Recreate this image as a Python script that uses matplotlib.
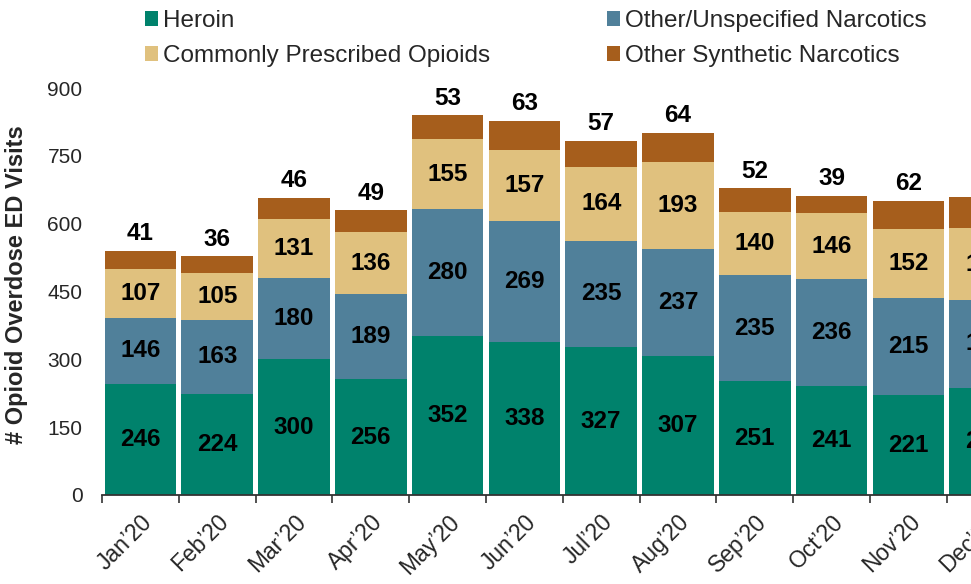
import numpy as np
import matplotlib.pyplot as plt

plt.rcParams['font.family'] = ['Liberation Sans', 'DejaVu Sans']

months = ['Jan’20', 'Feb’20', 'Mar’20', 'Apr’20', 'May’20', 'Jun’20',
          'Jul’20', 'Aug’20', 'Sep’20', 'Oct’20', 'Nov’20', 'Dec’20']
heroin = [246, 224, 300, 256, 352, 338, 327, 307, 251, 241, 221, 237]
other_unspec = [146, 163, 180, 189, 280, 269, 235, 237, 235, 236, 215, 194]
common_rx = [107, 105, 131, 136, 155, 157, 164, 193, 140, 146, 152, 159]
other_synth = [41, 36, 46, 49, 53, 63, 57, 64, 52, 39, 62, 70]

series = [
    ('Heroin', heroin, '#00826C'),
    ('Other/Unspecified Narcotics', other_unspec, '#50809A'),
    ('Commonly Prescribed Opioids', common_rx, '#E0C17E'),
    ('Other Synthetic Narcotics', other_synth, '#A65E1C'),
]

fig = plt.figure(figsize=(9.71, 5.84), dpi=100)
# axes run past the right edge of the figure
ax = fig.add_axes([102 / 971, 89 / 584, 921.6 / 971, 407 / 584])

x = np.arange(len(months))
bottom = np.zeros(len(months))
conts = {}
for name, vals, col in series:
    vals = np.array(vals)
    c = ax.bar(x, vals, 0.93, bottom=bottom, color=col, label=name)
    conts[name] = c
    bottom += vals

for name, vals, _ in series[:3]:
    ax.bar_label(conts[name], labels=[str(v) for v in vals], label_type='center',
                 fontsize=17.5, fontweight='bold', color='black')
# synthetic counts sit on top of each column
ax.bar_label(conts['Other Synthetic Narcotics'],
             labels=[str(v) for v in other_synth], label_type='edge',
             padding=4, fontsize=17.5, fontweight='bold', color='black')

ax.set_xlim(-0.5, 11.5)
ax.set_ylim(0, 900)
ax.set_yticks(np.arange(0, 901, 150))
ax.tick_params(axis='y', length=0, pad=14, labelsize=15, labelcolor='#262626')

ax.set_xticks(x)
ax.set_xticklabels(months, rotation=45, ha='right', rotation_mode='anchor')
ax.set_xticks(np.arange(-0.5, 12, 1), minor=True)
ax.tick_params(axis='x', which='major', length=0, pad=11, labelsize=16.5,
               labelcolor='#262626')
ax.tick_params(axis='x', which='minor', length=6, width=1.2, color='#333333')

for s in ['top', 'right', 'left']:
    ax.spines[s].set_visible(False)
ax.spines['bottom'].set_color('#333333')
ax.spines['bottom'].set_linewidth(1.3)

ax.set_ylabel('# Opioid Overdose ED Visits', fontsize=17, fontweight='bold',
              color='#262626')
ax.yaxis.set_label_coords(-0.080, 0.516)

order = ['Heroin', 'Commonly Prescribed Opioids',
         'Other/Unspecified Narcotics', 'Other Synthetic Narcotics']
fig.legend([conts[n] for n in order], order, ncol=2, loc='upper left',
           bbox_to_anchor=(145 / 971, 1 - 10 / 584), frameon=False,
           fontsize=17.5, handlelength=0.55, handleheight=0.55,
           handletextpad=0.2, columnspacing=4.8, borderpad=0,
           borderaxespad=0, labelspacing=0.55, labelcolor='#262626')

fig.savefig('out.png', dpi=100)
